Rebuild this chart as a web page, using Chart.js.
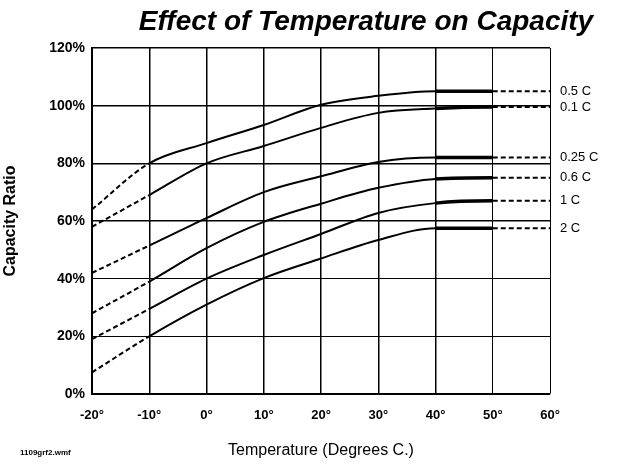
<!DOCTYPE html>
<html>
<head>
<meta charset="utf-8">
<script src="https://cdn.jsdelivr.net/npm/chart.js@4.4.0/dist/chart.umd.min.js"></script>
<style>
  body { margin: 0; background: #fff; }
  canvas { display: block; }
</style>
</head>
<body>
<canvas id="chart" width="634" height="470"></canvas>
<script>
const temps = [-20, -10, 0, 10, 20, 30, 40, 50, 60]

// capacity ratio (%) per discharge rate
const rate05 = [64, 80, 87, 93.3, 100.3, 103.4, 105, 105, 105]
const rate01 = [58, 69, 80, 86, 92.3, 97.5, 99, 99.5, 99.5]
const rate025 = [42, 51.5, 61, 70, 75.5, 80.5, 82, 82, 82]
const rate06 = [28, 39, 50.6, 59.7, 66, 71.5, 74.6, 75, 75]
const rate1 = [19, 29.5, 40, 48.2, 55.5, 62.8, 66.2, 67, 67]
const rate2 = [7.5, 20, 31, 40.2, 47, 53.4, 57.5, 57.5, 57.5]

const series = [rate05, rate01, rate025, rate06, rate1, rate2]
const rateLabels = ["0.5 C", "0.1 C", "0.25 C", "0.6 C", "1 C", "2 C"]

const xTicks = [-20, -10, 0, 10, 20, 30, 40, 50, 60]
const yTicks = [0, 20, 40, 60, 80, 100, 120]

const chartTitle = "Effect of Temperature on Capacity"
const fileNote = "1109grf2.wmf"

const FONT = "'Liberation Sans', Arial, sans-serif"

// curve names + chart title drawn as text on the canvas
const textPlugin = {
  id: "textPlugin",
  afterDatasetsDraw(chart) {
    const ctx = chart.ctx
    ctx.save()
    ctx.fillStyle = "#000"
    ctx.textBaseline = "middle"
    ctx.textAlign = "left"
    ctx.font = "13px " + FONT
    chart.data.datasets.forEach((ds, i) => {
      const pts = chart.getDatasetMeta(i).data
      const last = pts[pts.length - 1]
      ctx.fillText(ds.label, last.x + 10, last.y)
    })

    ctx.font = "italic bold 28px " + FONT
    ctx.textAlign = "center"
    ctx.fillText(chartTitle, 366, 22)

    ctx.font = "bold 8px " + FONT
    ctx.textAlign = "left"
    ctx.fillText(fileNote, 20, 453)
    ctx.restore()
  }
}

const datasets = series.map((vals, i) => ({
  label: rateLabels[i],
  data: temps.map((t, j) => ({x: t, y: vals[j]})),
  borderColor: "#000",
  borderWidth: 2,
  pointRadius: 0,
  cubicInterpolationMode: "monotone",
  segment: {
    borderDash: (c) => (c.p0.parsed.x < -10 || c.p0.parsed.x >= 50) ? [5, 3] : undefined,
    borderWidth: (c) => (c.p0.parsed.x >= 40 && c.p0.parsed.x < 50) ? 3.5 : undefined
  }
}))

new Chart(document.getElementById("chart"), {
  type: "line",
  data: {datasets: datasets},
  plugins: [textPlugin],
  options: {
    responsive: false,
    animation: false,
    layout: {padding: {top: 48, right: 84, bottom: 0, left: 0}},
    plugins: {
      legend: {display: false},
      tooltip: {enabled: false}
    },
    scales: {
      x: {
        type: "linear",
        min: -20,
        max: 60,
        afterFit: (scale) => { scale.height = 76 },
        afterBuildTicks: (scale) => { scale.ticks = xTicks.map(v => ({value: v})) },
        ticks: {
          color: "#000",
          padding: 14,
          font: {family: FONT, size: 13, weight: "bold"},
          callback: (v) => v + "°"
        },
        grid: {
          color: "#000",
          drawTicks: false,
          lineWidth: (c) => (c.tick && c.tick.value >= 50) ? 1 : 1.5
        },
        border: {color: "#000", width: 1.5},
        title: {
          display: true,
          text: "Temperature (Degrees C.)",
          color: "#000",
          font: {family: FONT, size: 16},
          padding: {top: 4, bottom: 10}
        }
      },
      y: {
        min: 0,
        max: 120,
        afterFit: (scale) => { scale.width = 92 },
        afterBuildTicks: (scale) => { scale.ticks = yTicks.map(v => ({value: v})) },
        ticks: {
          color: "#000",
          padding: 7,
          font: {family: FONT, size: 14, weight: "bold"},
          callback: (v) => v + "%"
        },
        grid: {
          color: "#000",
          drawTicks: false,
          lineWidth: (c) => (c.tick && c.tick.value <= 40) ? 1 : 1.5
        },
        border: {color: "#000", width: 2},
        title: {
          display: true,
          text: "Capacity Ratio",
          color: "#000",
          font: {family: FONT, size: 16, weight: "bold"},
          padding: {top: 1, bottom: 0}
        }
      }
    }
  }
})
</script>
</body>
</html>
